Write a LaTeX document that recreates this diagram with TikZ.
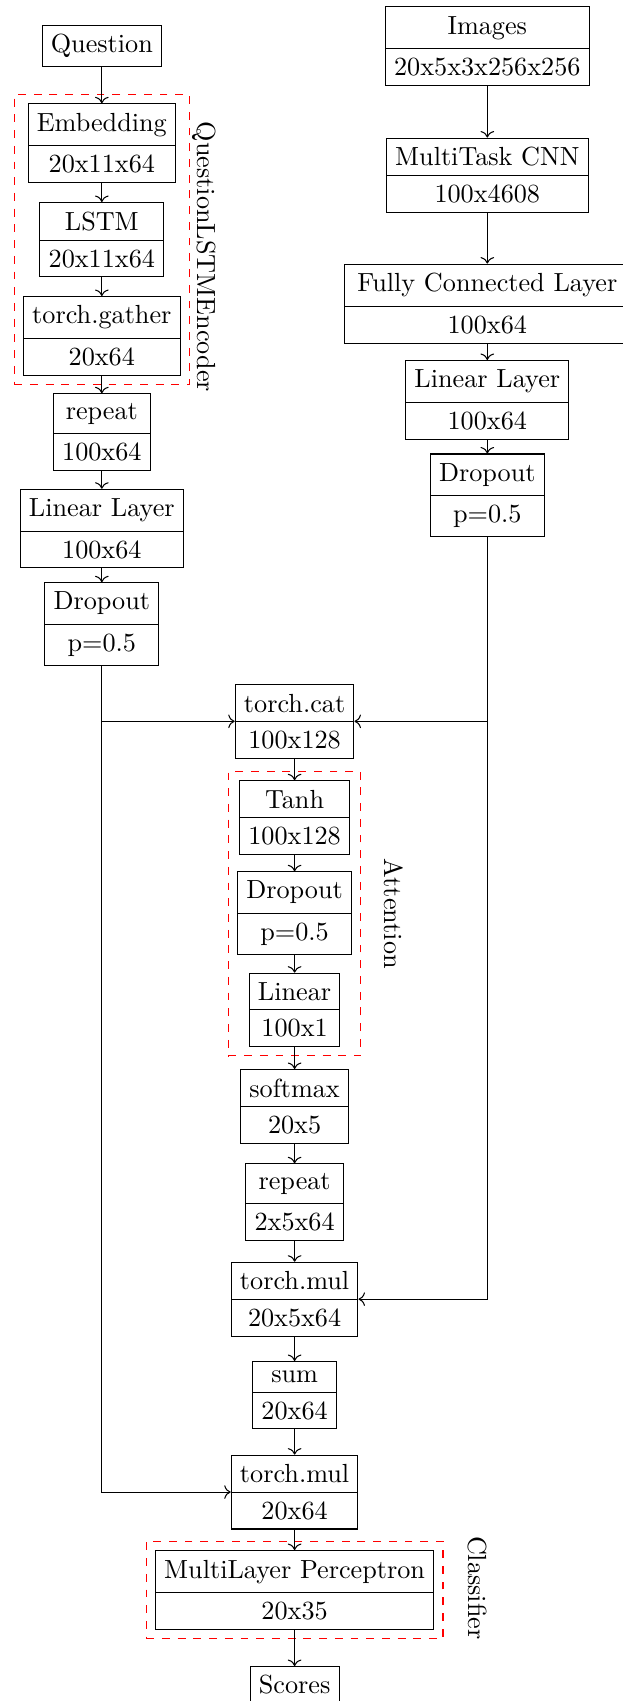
\documentclass[tikz,border=0pt]{standalone}
\usepackage{tikz}
\usetikzlibrary{arrows.meta}
\usetikzlibrary{shapes.multipart}
\usetikzlibrary{fit}
\usepackage[rgb]{xcolor}
\definecolor{grp}{HTML}{FF0000}

\tikzset{
  layer/.style={draw, rectangle split, rectangle split parts=2, anchor=north},
  io/.style={draw, anchor=north},
  group/.style={draw=grp, dashed, fit=#1},
  grouplabel/.style={rotate=-90, anchor=base},
}

\begin{document}
\begin{tikzpicture}
  \useasboundingbox (0,0) rectangle (8.344,-22.818);

  % question branch
  \node[io]    (q)      at (1.366,-0.335) {Question};
  \node[layer] (emb)    at (1.366,-1.386) {Embedding \nodepart{second} 20x11x64};
  \node[layer] (lstm)   at (1.366,-2.710) {LSTM \nodepart{second} 20x11x64};
  \node[layer] (gather) at (1.366,-3.971) {torch.gather \nodepart{second} 20x64};
  \node[layer] (repL)   at (1.366,-5.276) {repeat \nodepart{second} 100x64};
  \node[layer] (linL)   at (1.366,-6.556) {Linear Layer \nodepart{second} 100x64};
  \node[layer] (dropL)  at (1.366,-7.811) {Dropout \nodepart{second} p=0.5};

  % image branch
  \node[layer] (img)    at (6.537,-0.086) {Images \nodepart{second} 20x5x3x256x256};
  \node[layer] (cnn)    at (6.537,-1.845) {MultiTask CNN \nodepart{second} 100x4608};
  \node[layer, inner xsep=5pt] (fc) at (6.537,-3.536) {Fully Connected Layer \nodepart{second} 100x64};
  \node[layer] (linR)   at (6.537,-4.829) {Linear Layer \nodepart{second} 100x64};
  \node[layer] (dropR)  at (6.537,-6.083) {Dropout \nodepart{second} p=0.5};

  % attention + fusion
  \node[layer] (cat)    at (3.952,-9.176)  {torch.cat \nodepart{second} 100x128};
  \node[layer] (tanh)   at (3.952,-10.467) {Tanh \nodepart{second} 100x128};
  \node[layer] (dropM)  at (3.952,-11.688) {Dropout \nodepart{second} p=0.5};
  \node[layer] (linM)   at (3.952,-13.048) {Linear \nodepart{second} 100x1};
  \node[layer] (soft)   at (3.952,-14.340) {softmax \nodepart{second} 20x5};
  \node[layer] (repM)   at (3.952,-15.605) {repeat \nodepart{second} 2x5x64};
  \node[layer] (mul1)   at (3.952,-16.925) {torch.mul \nodepart{second} 20x5x64};
  \node[layer] (sum)    at (3.952,-18.257) {sum \nodepart{second} 20x64};
  \node[layer] (mul2)   at (3.952,-19.513) {torch.mul \nodepart{second} 20x64};
  \node[layer] (mlp)    at (3.952,-20.793) {MultiLayer Perceptron \nodepart{second} 20x35};
  \node[io]    (scores) at (3.952,-22.349) {Scores};

  % dashed groups
  \node[group={(emb)(lstm)(gather)}] (qenc) {};
  \node[group={(tanh)(dropM)(linM)}] (att) {};
  \node[group={(mlp)}] (cls) {};
  \node[grouplabel] (qenclabel) at (2.643,-3.446)  {QuestionLSTMEncoder};
  \node[grouplabel] (attlabel)  at (5.160,-12.258) {Attention};
  \node[grouplabel] (clslabel)  at (6.282,-21.300) {Classifier};

  % straight links
  \foreach \a/\b in {q/emb, emb/lstm, lstm/gather, gather/repL, repL/linL, linL/dropL,
                     img/cnn, cnn/fc, fc/linR, linR/dropR,
                     cat/tanh, tanh/dropM, dropM/linM, linM/soft, soft/repM, repM/mul1,
                     mul1/sum, sum/mul2, mul2/mlp, mlp/scores}
    \draw[->] (\a.south) -- (\b.north);

  % skip links
  \draw[->] (dropL.south) |- (cat.west);
  \draw[->] (dropL.south) |- (mul2.west);
  \draw[->] (dropR.south) |- (cat.east);
  \draw[->] (dropR.south) |- (mul1.east);
\end{tikzpicture}
\end{document}
